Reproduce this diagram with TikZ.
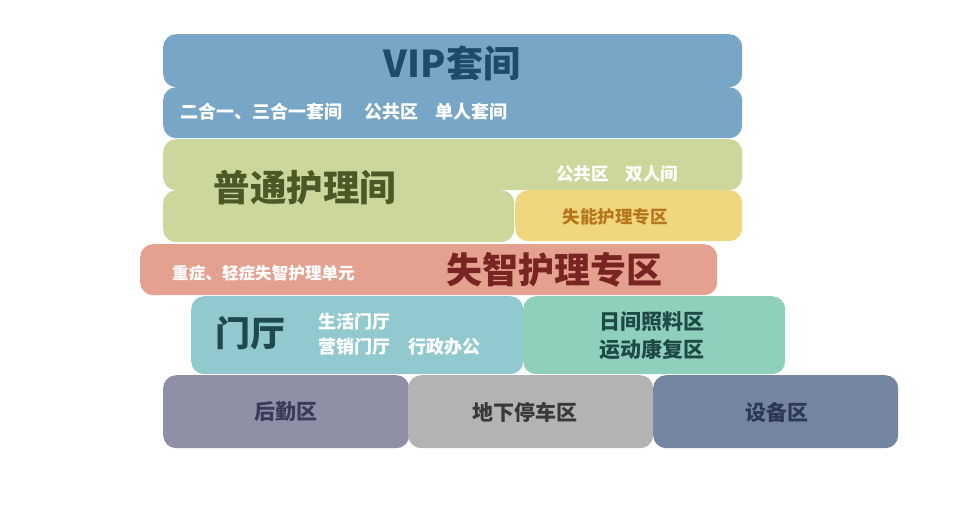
\documentclass[tikz,border=0pt]{standalone}
\usepackage{fontspec}
\setmainfont{Noto Sans CJK SC}
\newfontfamily\cjk{Noto Sans CJK SC}
\definecolor{vipbg}{HTML}{78A6C6}
\definecolor{viptx}{HTML}{1D4B6C}
\definecolor{grbg}{HTML}{CCD89B}
\definecolor{grtx}{HTML}{4C5826}
\definecolor{yebg}{HTML}{EFD67F}
\definecolor{yetx}{HTML}{B5771C}
\definecolor{rdbg}{HTML}{E5A190}
\definecolor{rdtx}{HTML}{782423}
\definecolor{tebg}{HTML}{92C9CF}
\definecolor{tetx}{HTML}{1E4A4F}
\definecolor{mnbg}{HTML}{8ED0BC}
\definecolor{mntx}{HTML}{1E4A45}
\definecolor{b1bg}{HTML}{8F8FA6}
\definecolor{b1tx}{HTML}{393C58}
\definecolor{b2bg}{HTML}{B3B3B3}
\definecolor{b2tx}{HTML}{393939}
\definecolor{b3bg}{HTML}{7485A1}
\definecolor{b3tx}{HTML}{2D3954}
\tikzset{
  zone/.style={draw=none, rounded corners=13pt, anchor=north west, inner sep=0pt},
  lbl/.style={inner sep=0pt, font=\cjk\bfseries},
}
\newcommand{\fs}[1]{\fontsize{#1}{#1}\selectfont}
\begin{document}
\begin{tikzpicture}[x=1pt,y=-1pt]
\useasboundingbox[fill=white] (0,0) rectangle (969,505);
% VIP
\node[zone, fill=vipbg, minimum width=579pt, minimum height=53pt] (vip) at (163,34) {};
\node[zone, fill=vipbg, minimum width=579pt, minimum height=51pt] (vipsub) at (163,87) {};
% general nursing
\node[zone, fill=grbg, minimum width=579pt, minimum height=51pt] (gen) at (163,139) {};
\node[zone, fill=grbg, minimum width=351pt, minimum height=52pt] (genlow) at (163,190) {};
\node[zone, fill=yebg, minimum width=227pt, minimum height=51pt] (dis) at (515,190) {};
% dementia
\node[zone, fill=rdbg, minimum width=577pt, minimum height=51pt] (dem) at (140,244) {};
% lobby
\node[zone, fill=tebg, minimum width=332pt, minimum height=78pt] (lobby) at (191,296) {};
\node[zone, fill=mnbg, minimum width=262pt, minimum height=78pt] (day) at (523,296) {};
% bottom
\node[zone, fill=b1bg, minimum width=246pt, minimum height=73pt] (log) at (163,375) {};
\node[zone, fill=b2bg, minimum width=245pt, minimum height=73pt] (park) at (408,375) {};
\node[zone, fill=b3bg, minimum width=245pt, minimum height=73pt] (equip) at (653,375) {};
% labels
\node[lbl, text=viptx, font=\cjk\bfseries\fs{37}] (t1) at (452,63) {VIP套间};
\node[lbl, text=white, anchor=west, font=\cjk\bfseries\fs{18}] (t2) at (180,112) {二合一、三合一套间\hspace{22pt}公共区\hspace{17pt}单人套间};
\node[lbl, text=grtx, font=\cjk\bfseries\fs{36.5}] (t3) at (305,188) {普通护理间};
\node[lbl, text=white, anchor=west, font=\cjk\bfseries\fs{17.5}] (t4) at (556,174) {公共区\hspace{17pt}双人间};
\node[lbl, text=yetx, font=\cjk\bfseries\fs{17.5}] (t5) at (615,217) {失能护理专区};
\node[lbl, text=white, anchor=west, font=\cjk\bfseries\fs{16.6}] (t6) at (172,273) {重症、轻症失智护理单元};
\node[lbl, text=rdtx, font=\cjk\bfseries\fs{36}] (t7) at (554,270) {失智护理专区};
\node[lbl, text=tetx, font=\cjk\bfseries\fs{35}] (t8) at (250,333) {门厅};
\node[lbl, text=white, anchor=west, font=\cjk\bfseries\fs{18}] (t9) at (318,322) {生活门厅};
\node[lbl, text=white, anchor=west, font=\cjk\bfseries\fs{18}] (t10) at (318,347) {营销门厅\hspace{18pt}行政办公};
\node[lbl, text=mntx, font=\cjk\bfseries\fs{21}] (t11) at (652,322) {日间照料区};
\node[lbl, text=mntx, font=\cjk\bfseries\fs{21}] (t12) at (652,350) {运动康复区};
\node[lbl, text=b1tx, font=\cjk\bfseries\fs{21}] (t13) at (286,412) {后勤区};
\node[lbl, text=b2tx, font=\cjk\bfseries\fs{21}] (t14) at (525,412) {地下停车区};
\node[lbl, text=b3tx, font=\cjk\bfseries\fs{21}] (t15) at (777,412) {设备区};
\end{tikzpicture}
\end{document}
